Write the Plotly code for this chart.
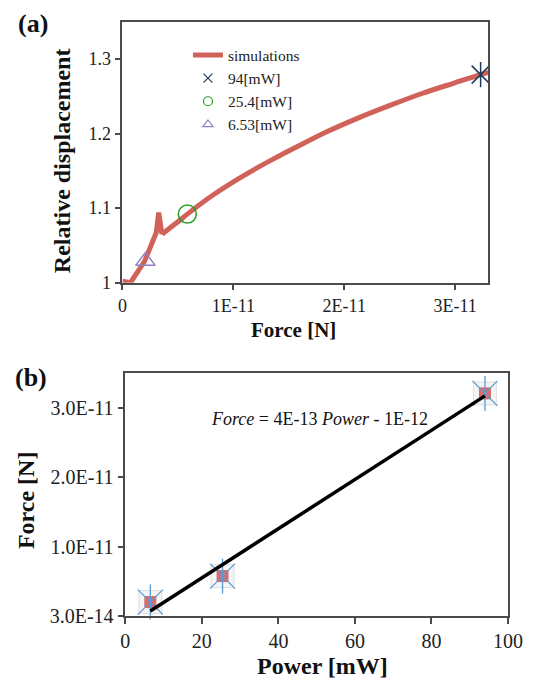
import numpy as np
import plotly.graph_objects as go

W, H = 539, 692

# ---------------- data ----------------
# (a) simulation curve: force [N] vs relative displacement
sim_force = [0, 0.072e-11, 0.20e-11, 0.304e-11, 0.327e-11, 0.356e-11, 0.52e-11, 0.585e-11,
             0.81e-11, 1.086e-11, 1.375e-11, 1.636e-11, 1.838e-11, 2.129e-11, 2.418e-11,
             2.707e-11, 2.997e-11, 3.228e-11, 3.30e-11]
sim_disp = [1.002, 1.0, 1.029, 1.067, 1.094, 1.065, 1.084, 1.092, 1.117, 1.143, 1.167,
            1.187, 1.202, 1.221, 1.238, 1.254, 1.268, 1.279, 1.282]
PEAK_END = 5  # index where the post-peak smooth branch starts

# (a) measured points
meas_labels = ["94[mW]", "25.4[mW]", "6.53[mW]"]
meas_force = [3.23e-11, 0.585e-11, 0.207e-11]
meas_disp = [1.279, 1.092, 1.029]

# (b) power vs force
power_mw = [6.53, 25.4, 94]
force_b = [0.20e-11, 0.575e-11, 3.21e-11]

a_xticks = [0, 1e-11, 2e-11, 3e-11]
a_xtext = ["0", "1E-11", "2E-11", "3E-11"]
a_yticks = [1.0, 1.1, 1.2, 1.3]
a_ytext = ["1", "1.1", "1.2", "1.3"]
b_yticks = [3e-14, 1e-11, 2e-11, 3e-11]
b_ytext = ["3.0E-14", "1.0E-11", "2.0E-11", "3.0E-11"]
b_xticks = [0, 20, 40, 60, 80, 100]

# ---------------- helpers ----------------
def px(x):
    return x / W

def py(y):
    return 1 - y / H

SERIF = "Liberation Serif, Times New Roman, serif"
AX = "#4a4a4a"
RED = "#d0625a"

fig = go.Figure()

# ---- panel (a) ----
fig.add_trace(go.Scatter(x=sim_force[:PEAK_END + 1], y=sim_disp[:PEAK_END + 1], mode="lines",
                         line=dict(color=RED, width=5), xaxis="x", yaxis="y",
                         cliponaxis=False, showlegend=False))
fig.add_trace(go.Scatter(x=sim_force[PEAK_END:], y=sim_disp[PEAK_END:], mode="lines",
                         line=dict(color=RED, width=5, shape="spline", smoothing=0.8),
                         xaxis="x", yaxis="y", cliponaxis=False, showlegend=False))
sym = ["x-thin-open", "circle-open", "triangle-up-open"]
cols = ["#1f3a5f", "#22a022", "#9080c8"]
sizes = [18, 18, 17]
for i in range(3):
    fig.add_trace(go.Scatter(x=[meas_force[i]], y=[meas_disp[i]], mode="markers",
                             marker=dict(symbol=sym[i], size=sizes[i], color=cols[i],
                                         line=dict(color=cols[i], width=1.5)),
                             xaxis="x", yaxis="y", cliponaxis=False, showlegend=False))
fig.add_trace(go.Scatter(x=[meas_force[0]], y=[meas_disp[0]], mode="markers",
                         marker=dict(symbol="line-ns-open", size=18, color=cols[0],
                                     line=dict(color=cols[0], width=1.5)),
                         xaxis="x", yaxis="y", cliponaxis=False, showlegend=False))

# legend-only entries
fig.add_trace(go.Scatter(x=[None], y=[None], mode="lines", name="simulations",
                         line=dict(color=RED, width=5), xaxis="x", yaxis="y"))
for i in range(3):
    fig.add_trace(go.Scatter(x=[None], y=[None], mode="markers", name=meas_labels[i],
                             marker=dict(symbol=sym[i], size=9, color=cols[i],
                                         line=dict(color=cols[i], width=1.2)),
                             xaxis="x", yaxis="y"))

# ---- panel (b) ----
fig.add_trace(go.Scatter(x=power_mw, y=force_b, mode="markers",
                         marker=dict(symbol="square", size=23, color="rgba(225,225,225,0.35)",
                                     line=dict(color="rgba(200,200,200,0.55)", width=1)),
                         xaxis="x2", yaxis="y2", showlegend=False, cliponaxis=False))
fig.add_trace(go.Scatter(x=power_mw, y=force_b, mode="markers",
                         marker=dict(symbol="square", size=11, color="#e06a68",
                                     line=dict(color="#cc5e5c", width=0.8)),
                         xaxis="x2", yaxis="y2", showlegend=False, cliponaxis=False))
for s in ["x-thin-open", "line-ns-open"]:
    fig.add_trace(go.Scatter(x=power_mw, y=force_b, mode="markers",
                             marker=dict(symbol=s, size=25, color="#5b9bd5",
                                         line=dict(color="#5b9bd5", width=1.3)),
                             xaxis="x2", yaxis="y2", showlegend=False, cliponaxis=False))

slope, intercept = np.polyfit(power_mw, force_b, 1)
fit_x = np.array([min(power_mw), max(power_mw)])
fig.add_trace(go.Scatter(x=fit_x, y=slope * fit_x + intercept, mode="lines",
                         line=dict(color="black", width=3.5),
                         xaxis="x2", yaxis="y2", showlegend=False, cliponaxis=False))

axis_common = dict(showline=True, linecolor=AX, linewidth=1.5, mirror=True,
                   ticks="outside", ticklen=6, tickcolor=AX, tickwidth=1.5,
                   showgrid=False, zeroline=False)

fig.update_layout(
    width=W, height=H,
    margin=dict(l=0, r=0, t=0, b=0),
    paper_bgcolor="white", plot_bgcolor="white",
    showlegend=True,
    legend=dict(x=px(190), y=py(39), xanchor="left", yanchor="top",
                bgcolor="rgba(0,0,0,0)", font=dict(family=SERIF, size=15.5, color="#222"),
                itemwidth=30, tracegroupgap=0),
    xaxis=dict(domain=[px(122), px(502)], range=[0, 3.3e-11], anchor="y",
               tickvals=a_xticks, ticktext=a_xtext,
               tickfont=dict(family=SERIF, size=18, color="#222"), **axis_common),
    yaxis=dict(domain=[py(287.3), py(22)], range=[1.0, 1.35], anchor="x",
               tickvals=a_yticks, ticktext=a_ytext,
               tickfont=dict(family=SERIF, size=18, color="#222"), **axis_common),
    xaxis2=dict(domain=[px(125), px(522.3)], range=[0, 100], anchor="y2",
                tickvals=b_xticks,
                tickfont=dict(family=SERIF, size=20, color="#222"), **axis_common),
    yaxis2=dict(domain=[py(625.7), py(379.3)], range=[3e-14, 3.5e-11], anchor="x2",
                tickvals=b_yticks, ticktext=b_ytext,
                tickfont=dict(family=SERIF, size=20, color="#222"), **axis_common),
)

def ann(text, x, y, size, bold=True, angle=0, xanchor="center"):
    fig.add_annotation(text=("<b>%s</b>" % text) if bold else text,
                       x=px(x), y=py(y), xref="paper", yref="paper",
                       xanchor=xanchor, yanchor="middle", showarrow=False, textangle=angle,
                       font=dict(family=SERIF, size=size, color="#111"))

ann("(a)", 29, 24, 26)
ann("(b)", 27, 384, 26)
ann("Relative displacement", 60, 163, 24, angle=-90)
ann("Force [N]", 300, 335, 21)
ann("Force [N]", 22, 508, 24, angle=-90)
ann("Power [mW]", 330, 677, 24)
ann("<i>Force</i> = 4E-13 <i>Power</i> - 1E-12", 212, 426, 18, bold=False, xanchor="left")

fig.write_html("out.html")
